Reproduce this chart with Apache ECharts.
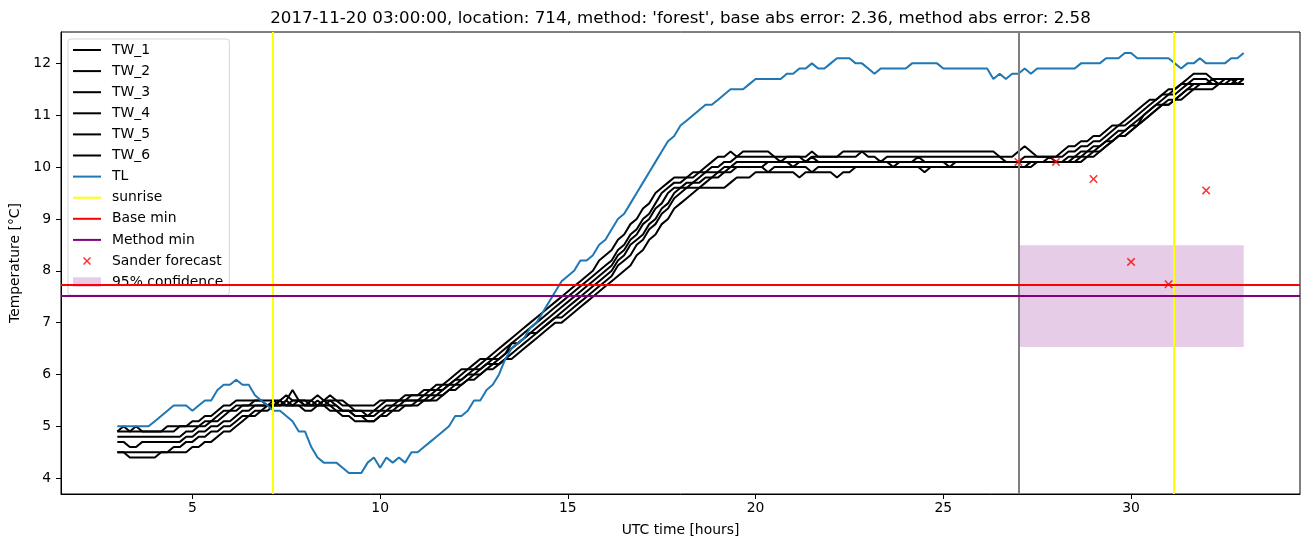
<!DOCTYPE html>
<html>
<head>
<meta charset="utf-8">
<script src="https://cdn.jsdelivr.net/npm/echarts@6/dist/echarts.min.js"></script>
<style>
html,body{margin:0;padding:0;background:#fff;}
#chart{width:1311px;height:547px;}
</style>
</head>
<body>
<div id="chart"></div>
<script>
// ---------------- data ----------------
const TITLE = "2017-11-20 03:00:00, location: 714, method: 'forest', base abs error: 2.36, method abs error: 2.58";
const START_HOUR = 3;          // first sample (UTC hours)
const STEP_MIN = 10;           // sample spacing in minutes

const TW_1 = [
 4.9,5.0,4.9,4.9,4.9,4.9, 4.9,4.9,5.0,5.0,5.0,5.0, 5.1,5.1,5.2,5.2,5.3,5.4, 5.4,5.5,5.5,5.5,5.5,5.5,
 5.5,5.5,5.5,5.6,5.5,5.5, 5.5,5.5,5.6,5.5,5.5,5.5, 5.4,5.4,5.4,5.4,5.4,5.4, 5.5,5.5,5.5,5.5,5.6,5.6,
 5.6,5.7,5.7,5.8,5.8,5.9, 6.0,6.1,6.1,6.2,6.3,6.3, 6.4,6.5,6.6,6.7,6.8,6.9, 7.0,7.1,7.2,7.3,7.4,7.5,
 7.6,7.7,7.8,7.9,8.0,8.2, 8.3,8.4,8.6,8.7,8.9,9.0, 9.2,9.3,9.5,9.6,9.7,9.8, 9.8,9.8,9.9,9.9,10.0,10.1,
 10.2,10.2,10.3,10.2,10.3,10.3, 10.3,10.3,10.3,10.2,10.2,10.2, 10.2,10.2,10.2,10.3,10.2,10.2, 10.2,10.2,10.3,10.3,10.3,10.3,
 10.3,10.3,10.3,10.3,10.3,10.3, 10.3,10.3,10.3,10.3,10.3,10.3, 10.3,10.3,10.3,10.3,10.3,10.3, 10.3,10.3,10.3,10.2,10.2,10.2,
 10.3,10.4,10.3,10.2,10.2,10.2, 10.2,10.3,10.4,10.4,10.5,10.5, 10.6,10.6,10.7,10.8,10.8,10.9, 11.0,11.1,11.2,11.3,11.3,11.4,
 11.5,11.5,11.6,11.7,11.8,11.8, 11.8,11.7,11.7,11.7,11.7,11.7, 11.7
];
const TW_2 = [
 4.9,4.9,4.9,5.0,4.9,4.9, 4.9,4.9,4.9,4.9,5.0,5.0, 5.0,5.0,5.1,5.1,5.2,5.3, 5.3,5.4,5.4,5.4,5.5,5.5,
 5.4,5.5,5.4,5.5,5.7,5.5, 5.5,5.4,5.4,5.5,5.6,5.5, 5.5,5.4,5.3,5.3,5.3,5.3, 5.4,5.5,5.5,5.5,5.5,5.6,
 5.6,5.6,5.7,5.7,5.8,5.8, 5.9,6.0,6.1,6.1,6.2,6.3, 6.3,6.4,6.5,6.6,6.7,6.8, 6.9,7.0,7.1,7.2,7.3,7.4,
 7.5,7.6,7.7,7.8,7.9,8.0, 8.1,8.2,8.4,8.5,8.7,8.8, 9.0,9.1,9.3,9.5,9.6,9.7, 9.7,9.8,9.8,9.9,9.9,10.0,
 10.0,10.1,10.1,10.2,10.2,10.2, 10.2,10.2,10.2,10.2,10.1,10.2, 10.2,10.2,10.1,10.2,10.2,10.2, 10.2,10.2,10.2,10.2,10.2,10.3,
 10.2,10.2,10.1,10.2,10.2,10.2, 10.2,10.2,10.2,10.2,10.2,10.2, 10.2,10.2,10.2,10.2,10.2,10.2, 10.2,10.2,10.2,10.2,10.1,10.1,
 10.1,10.2,10.2,10.2,10.2,10.2, 10.2,10.2,10.3,10.3,10.4,10.4, 10.5,10.5,10.6,10.7,10.8,10.8, 10.9,11.0,11.1,11.2,11.3,11.4,
 11.4,11.5,11.6,11.6,11.7,11.7, 11.7,11.6,11.6,11.6,11.6,11.7, 11.7
];
const TW_3 = [
 4.8,4.8,4.8,4.8,4.8,4.8, 4.8,4.8,4.8,4.8,4.8,4.9, 4.9,5.0,5.0,5.1,5.1,5.2, 5.3,5.3,5.4,5.4,5.4,5.4,
 5.4,5.4,5.5,5.4,5.5,5.5, 5.4,5.4,5.5,5.4,5.4,5.4, 5.3,5.3,5.3,5.3,5.2,5.2, 5.3,5.4,5.4,5.5,5.5,5.5,
 5.5,5.6,5.6,5.7,5.7,5.8, 5.9,5.9,6.0,6.1,6.1,6.2, 6.3,6.3,6.4,6.6,6.6,6.7, 6.8,6.9,7.0,7.1,7.2,7.3,
 7.4,7.5,7.6,7.7,7.8,7.9, 8.0,8.1,8.3,8.4,8.6,8.7, 8.9,9.0,9.2,9.3,9.5,9.6, 9.6,9.7,9.7,9.8,9.9,9.9,
 9.9,10.0,10.0,10.1,10.1,10.1, 10.1,10.1,10.1,10.1,10.1,10.1, 10.1,10.1,10.1,10.2,10.1,10.1, 10.1,10.1,10.1,10.1,10.1,10.1,
 10.1,10.1,10.1,10.1,10.1,10.1, 10.1,10.1,10.2,10.1,10.1,10.1, 10.1,10.1,10.1,10.1,10.1,10.1, 10.1,10.1,10.1,10.1,10.1,10.1,
 10.1,10.1,10.1,10.1,10.1,10.2, 10.1,10.1,10.2,10.2,10.3,10.3, 10.4,10.4,10.5,10.6,10.7,10.7, 10.8,10.9,11.0,11.1,11.2,11.3,
 11.4,11.4,11.5,11.6,11.6,11.6, 11.6,11.6,11.6,11.6,11.6,11.6, 11.6
];
const TW_4 = [
 4.7,4.7,4.6,4.6,4.7,4.7, 4.7,4.7,4.7,4.7,4.7,4.8, 4.8,4.9,4.9,5.0,5.0,5.1, 5.1,5.2,5.3,5.3,5.4,5.4,
 5.4,5.4,5.4,5.5,5.4,5.4, 5.4,5.5,5.4,5.4,5.5,5.4, 5.3,5.3,5.2,5.2,5.2,5.3, 5.3,5.3,5.4,5.4,5.5,5.5,
 5.5,5.5,5.6,5.6,5.7,5.8, 5.8,5.9,6.0,6.0,6.1,6.2, 6.2,6.3,6.4,6.5,6.6,6.7, 6.8,6.8,6.9,7.0,7.1,7.2,
 7.3,7.4,7.5,7.6,7.7,7.8, 7.9,8.0,8.2,8.3,8.5,8.6, 8.7,8.9,9.0,9.2,9.3,9.5, 9.6,9.6,9.7,9.7,9.8,9.8,
 9.9,9.9,10.0,10.0,10.0,10.0, 10.0,10.0,10.1,10.1,10.1,10.1, 10.0,10.1,10.1,10.1,10.1,10.1, 10.1,10.1,10.1,10.1,10.1,10.1,
 10.1,10.1,10.1,10.1,10.0,10.1, 10.1,10.1,10.1,10.1,10.1,10.1, 10.1,10.0,10.1,10.1,10.1,10.1, 10.1,10.1,10.1,10.1,10.1,10.1,
 10.1,10.1,10.1,10.1,10.1,10.1, 10.1,10.1,10.1,10.2,10.2,10.3, 10.3,10.4,10.5,10.5,10.6,10.7, 10.8,10.8,10.9,11.0,11.1,11.2,
 11.3,11.3,11.4,11.5,11.6,11.6, 11.6,11.7,11.6,11.7,11.7,11.6, 11.7
];
const TW_5 = [
 4.5,4.5,4.5,4.5,4.5,4.5, 4.5,4.5,4.5,4.6,4.6,4.7, 4.7,4.8,4.8,4.9,4.9,5.0, 5.0,5.1,5.2,5.2,5.3,5.3,
 5.4,5.4,5.5,5.4,5.4,5.5, 5.4,5.4,5.4,5.5,5.4,5.3, 5.3,5.3,5.2,5.2,5.1,5.1, 5.2,5.3,5.3,5.4,5.4,5.4,
 5.5,5.5,5.5,5.6,5.6,5.7, 5.8,5.8,5.9,6.0,6.0,6.1, 6.2,6.2,6.3,6.4,6.5,6.6, 6.7,6.8,6.9,7.0,7.1,7.1,
 7.2,7.3,7.4,7.5,7.6,7.7, 7.8,7.9,8.1,8.2,8.3,8.5, 8.6,8.8,8.9,9.1,9.2,9.4, 9.5,9.6,9.6,9.6,9.7,9.8,
 9.8,9.9,9.9,10.0,10.0,10.0, 10.0,10.0,9.9,10.0,10.0,10.0, 10.0,10.0,10.0,9.9,10.0,10.0, 10.0,10.0,10.0,10.0,10.0,10.0,
 10.0,10.0,10.0,10.0,10.0,10.0, 10.0,10.0,10.0,9.9,10.0,10.0, 10.0,10.0,10.0,10.0,10.0,10.0, 10.0,10.0,10.0,10.0,10.0,10.0,
 10.0,10.0,10.1,10.1,10.1,10.1, 10.1,10.1,10.1,10.1,10.2,10.2, 10.3,10.3,10.4,10.5,10.6,10.6, 10.7,10.8,11.0,11.1,11.2,11.2,
 11.2,11.3,11.4,11.5,11.5,11.6, 11.6,11.6,11.6,11.6,11.7,11.7, 11.7
];
const TW_6 = [
 4.5,4.5,4.4,4.4,4.4,4.4, 4.4,4.5,4.5,4.5,4.5,4.5, 4.6,4.6,4.7,4.7,4.8,4.9, 4.9,5.0,5.1,5.2,5.2,5.3,
 5.3,5.4,5.4,5.4,5.4,5.4, 5.3,5.3,5.4,5.4,5.3,5.3, 5.2,5.2,5.1,5.1,5.1,5.1, 5.2,5.2,5.3,5.3,5.4,5.4,
 5.4,5.5,5.5,5.5,5.6,5.7, 5.7,5.8,5.9,5.9,6.0,6.1, 6.1,6.2,6.3,6.3,6.4,6.5, 6.6,6.7,6.8,6.9,7.0,7.0,
 7.1,7.2,7.3,7.4,7.5,7.6, 7.7,7.8,7.9,8.0,8.1,8.3, 8.4,8.6,8.7,8.9,9.0,9.2, 9.3,9.4,9.5,9.6,9.6,9.6,
 9.6,9.6,9.7,9.8,9.8,9.8, 9.9,9.9,9.9,9.9,9.9,9.9, 9.9,9.8,9.9,9.9,9.9,9.9, 9.9,9.8,9.9,9.9,10.0,10.0,
 10.0,10.0,10.0,10.0,10.0,10.0, 10.0,10.0,10.0,10.0,10.0,10.0, 10.0,10.0,10.0,10.0,10.0,10.0, 10.0,10.0,10.0,10.0,10.0,10.0,
 10.0,10.0,10.0,10.1,10.1,10.1, 10.1,10.1,10.1,10.1,10.1,10.2, 10.2,10.3,10.4,10.5,10.6,10.6, 10.7,10.8,10.9,11.0,11.1,11.2,
 11.2,11.3,11.3,11.4,11.5,11.5, 11.5,11.5,11.6,11.6,11.6,11.6, 11.6
];
const TL = [
 5.0,5.0,5.0,5.0,5.0,5.0, 5.1,5.2,5.3,5.4,5.4,5.4, 5.3,5.4,5.5,5.5,5.7,5.8, 5.8,5.9,5.8,5.8,5.6,5.5,
 5.4,5.3,5.3,5.2,5.1,4.9, 4.9,4.6,4.4,4.3,4.3,4.3, 4.2,4.1,4.1,4.1,4.3,4.4, 4.2,4.4,4.3,4.4,4.3,4.5,
 4.5,4.6,4.7,4.8,4.9,5.0, 5.2,5.2,5.3,5.5,5.5,5.7, 5.8,6.0,6.3,6.5,6.6,6.7, 6.9,7.0,7.2,7.4,7.6,7.8,
 7.9,8.0,8.2,8.2,8.3,8.5, 8.6,8.8,9.0,9.1,9.3,9.5, 9.7,9.9,10.1,10.3,10.5,10.6, 10.8,10.9,11.0,11.1,11.2,11.2,
 11.3,11.4,11.5,11.5,11.5,11.6, 11.7,11.7,11.7,11.7,11.7,11.8, 11.8,11.9,11.9,12.0,11.9,11.9, 12.0,12.1,12.1,12.1,12.0,12.0,
 11.9,11.8,11.9,11.9,11.9,11.9, 11.9,12.0,12.0,12.0,12.0,12.0, 11.9,11.9,11.9,11.9,11.9,11.9, 11.9,11.9,11.7,11.8,11.7,11.8,
 11.8,11.9,11.8,11.9,11.9,11.9, 11.9,11.9,11.9,11.9,12.0,12.0, 12.0,12.0,12.1,12.1,12.1,12.2, 12.2,12.1,12.1,12.1,12.1,12.1,
 12.1,12.0,11.9,12.0,12.0,12.1, 12.0,12.0,12.0,12.0,12.1,12.1, 12.2
];
const SUNRISE = [7.13, 31.15];
const NOW_HOUR = 27;
const BASE_MIN = 7.74;
const METHOD_MIN = 7.51;
const SANDER_HOURS = [27, 28, 29, 30, 31, 32];
const SANDER_TEMP = [10.1, 10.1, 9.77, 8.17, 7.74, 9.55];
const CONF_HOURS = [27, 33];
const CONF_TEMP = [6.53, 8.49];
const X_TICKS = [5, 10, 15, 20, 25, 30];
const Y_TICKS = [4, 5, 6, 7, 8, 9, 10, 11, 12];
const X_RANGE = [1.5, 34.5];
const Y_RANGE = [3.695, 12.605];

// ---------------- build ----------------
const FONT = 'DejaVu Sans';
const times = TL.map((_, i) => START_HOUR + i * STEP_MIN / 60);
const pairs = vals => vals.map((v, i) => [times[i], v]);

const LINE_ICON = 'path://M0,0 M34,14 M0,6 L28,6 L28,8 L0,8 Z';
const RECT_ICON = 'path://M0,0 M34,14 M0,2.2 L28,2.2 L28,11.8 L0,11.8 Z';
const X_ICON = 'path://M0,0 M34,14 M10,4.06 L11.06,3 L14,5.94 L16.94,3 L18,4.06 L15.06,7 L18,9.94 L16.94,11 L14,8.06 L11.06,11 L10,9.94 L12.94,7 Z';
const X_SYMBOL = 'path://M0,1.3 L1.3,0 L5,3.7 L8.7,0 L10,1.3 L6.3,5 L10,8.7 L8.7,10 L5,6.3 L1.3,10 L0,8.7 L3.7,5 Z';

const twSets = [['TW_1', TW_1], ['TW_2', TW_2], ['TW_3', TW_3], ['TW_4', TW_4], ['TW_5', TW_5], ['TW_6', TW_6]];

function lineSeries(name, vals, color) {
  return {
    type: 'line', name, data: pairs(vals), symbol: 'none', showSymbol: false,
    lineStyle: { color, width: 2 }, itemStyle: { color }, color,
    clip: true, z: 2, silent: true, animation: false
  };
}
function refLine(name, color, lines) {
  return {
    type: 'line', name, data: [], symbol: 'none',
    lineStyle: { color, width: 2 }, itemStyle: { color }, color,
    markLine: {
      silent: true, symbol: ['none', 'none'], animation: false,
      label: { show: false },
      lineStyle: { color, width: 2, type: 'solid' },
      emphasis: { disabled: true },
      data: lines
    }
  };
}

const series = [];
twSets.forEach(([n, v]) => series.push(lineSeries(n, v, '#000000')));
series.push(lineSeries('TL', TL, '#1f77b4'));
series.push(refLine('now', '#808080', [{ xAxis: NOW_HOUR }]));
series.push(refLine('sunrise', '#ffff00', SUNRISE.map(h => ({ xAxis: h }))));
series.push(refLine('Base min', '#ff0000', [{ yAxis: BASE_MIN }]));
series.push(refLine('Method min', '#800080', [{ yAxis: METHOD_MIN }]));
series.push({
  type: 'scatter', name: 'Sander forecast',
  data: SANDER_HOURS.map((h, i) => [h, SANDER_TEMP[i]]),
  symbol: X_SYMBOL, symbolSize: 8.5,
  itemStyle: { color: '#ff0000' }, color: '#ff0000', z: 6, silent: true
});
series.push({
  type: 'custom', name: '95% confidence',
  data: [[CONF_HOURS[0], CONF_HOURS[1], CONF_TEMP[0], CONF_TEMP[1]]],
  encode: { x: [0, 1], y: [2, 3] },
  itemStyle: { color: 'rgba(128,0,128,0.2)' }, color: 'rgba(128,0,128,0.2)',
  z: 1, silent: true,
  renderItem: (params, api) => {
    const p1 = api.coord([api.value(0), api.value(3)]);
    const p2 = api.coord([api.value(1), api.value(2)]);
    return {
      type: 'rect',
      shape: { x: p1[0], y: p1[1], width: p2[0] - p1[0], height: p2[1] - p1[1] },
      style: { fill: 'rgba(128,0,128,0.2)' }
    };
  }
});

const legendData = twSets.map(([n]) => ({ name: n, icon: LINE_ICON }))
  .concat([
    { name: 'TL', icon: LINE_ICON },
    { name: 'sunrise', icon: LINE_ICON },
    { name: 'Base min', icon: LINE_ICON },
    { name: 'Method min', icon: LINE_ICON },
    { name: 'Sander forecast', icon: X_ICON },
    { name: '95% confidence', icon: RECT_ICON }
  ]);

// centre the title over the plot area (as matplotlib does)
const titleSize = 16.67;
const ctx = document.createElement('canvas').getContext('2d');
ctx.font = titleSize + 'px "' + FONT + '"';
const titleW = ctx.measureText(TITLE).width;
const gridLeft = 61, gridRight = 11, W = 1311;
const plotCentre = gridLeft + (W - gridLeft - gridRight) / 2;

const axisCommon = {
  type: 'value',
  nameLocation: 'middle',
  nameTextStyle: { fontFamily: FONT, fontSize: 13.9, color: '#000' },
  axisLine: { show: true, onZero: false, lineStyle: { color: '#000', width: 1 } },
  splitLine: { show: false },
  axisPointer: { show: false }
};

const option = {
  animation: false,
  backgroundColor: '#ffffff',
  textStyle: { fontFamily: FONT },
  title: {
    text: TITLE,
    left: plotCentre - titleW / 2 - 5,
    top: 5,
    textStyle: { fontFamily: FONT, fontSize: titleSize, fontWeight: 'normal', color: '#000' }
  },
  tooltip: { show: false },
  grid: {
    left: gridLeft, right: gridRight, top: 32, bottom: 53,
    show: true, borderColor: '#000', borderWidth: 1, backgroundColor: 'transparent',
    containLabel: false, outerBoundsMode: 'none'
  },
  legend: {
    orient: 'vertical', left: 68, top: 39,
    padding: [4, 6, 6, 5],
    itemWidth: 34, itemHeight: 14, itemGap: 7.1,
    backgroundColor: 'rgba(255,255,255,0.8)',
    borderColor: 'rgba(204,204,204,0.8)', borderWidth: 1, borderRadius: 3,
    selectedMode: false,
    itemStyle: { borderWidth: 0 },
    textStyle: { fontFamily: FONT, fontSize: 13.9, color: '#000', padding: 0 },
    data: legendData
  },
  xAxis: Object.assign({}, axisCommon, {
    min: X_RANGE[0], max: X_RANGE[1],
    name: 'UTC time [hours]', nameGap: 29,
    axisTick: { show: true, inside: false, length: 5, customValues: X_TICKS, lineStyle: { color: '#000', width: 1 } },
    axisLabel: { show: true, customValues: X_TICKS, margin: 7, fontFamily: FONT, fontSize: 13.9, color: '#000' }
  }),
  yAxis: Object.assign({}, axisCommon, {
    min: Y_RANGE[0], max: Y_RANGE[1],
    name: 'Temperature [°C]', nameGap: 33,
    axisTick: { show: true, inside: false, length: 5, customValues: Y_TICKS, lineStyle: { color: '#000', width: 1 } },
    axisLabel: { show: true, customValues: Y_TICKS, margin: 10, fontFamily: FONT, fontSize: 13.9, color: '#000' }
  }),
  series
};

const chart = echarts.init(document.getElementById('chart'), null, { renderer: 'canvas', width: 1311, height: 547 });
chart.setOption(option);
</script>
</body>
</html>
